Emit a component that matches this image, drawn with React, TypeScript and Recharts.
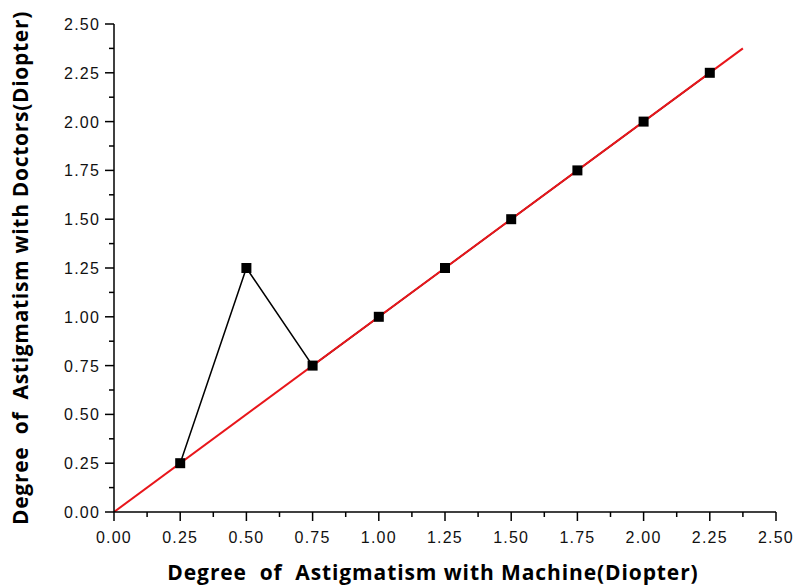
import React from "react";
import { ComposedChart, Line, Scatter, XAxis, YAxis } from "recharts";

const machineValues = [0.25, 0.5, 0.75, 1.0, 1.25, 1.5, 1.75, 2.0, 2.25];
const doctorValues = [0.25, 1.25, 0.75, 1.0, 1.25, 1.5, 1.75, 2.0, 2.25];
const fitX = [0, 2.375];
const fitY = [0, 2.375];
const axisTicks = [0, 0.125, 0.25, 0.375, 0.5, 0.625, 0.75, 0.875, 1.0, 1.125, 1.25, 1.375, 1.5, 1.625, 1.75, 1.875, 2.0, 2.125, 2.25, 2.375, 2.5];
const xTitle = "Degree\u00A0\u00A0of\u00A0\u00A0Astigmatism with Machine(Diopter)";
const yTitle = "Degree\u00A0\u00A0of\u00A0\u00A0Astigmatism with Doctors(Diopter)";

const points = machineValues.map((x, i) => ({ x, y: doctorValues[i] }));
const fitLine = fitX.map((x, i) => ({ x, y: fitY[i] }));

const isMajor = (v: number) => Math.abs(v * 4 - Math.round(v * 4)) < 1e-6;
const tickFont = "'Liberation Sans', Arial, sans-serif";
const titleFont = "'Open Sans', 'Noto Sans', sans-serif";

const XTick = (props: any) => {
  const { x, y, payload } = props;
  const v = payload.value as number;
  const major = isMajor(v);
  return (
    <g>
      <line x1={x} x2={x} y1={y} y2={y + (major ? 9 : 5)} stroke="#000" strokeWidth={1.5} />
      {major && (
        <text x={x} y={y + 31} textAnchor="middle" fontFamily={tickFont} fontSize={16} letterSpacing={1.2} fill="#111">
          {v.toFixed(2)}
        </text>
      )}
    </g>
  );
};

const YTick = (props: any) => {
  const { x, y, payload } = props;
  const v = payload.value as number;
  const major = isMajor(v);
  return (
    <g>
      <line x1={x - (major ? 9 : 5)} x2={x} y1={y} y2={y} stroke="#000" strokeWidth={1.5} />
      {major && (
        <text x={x - 14} y={y + 6} textAnchor="end" fontFamily={tickFont} fontSize={16} letterSpacing={1.2} fill="#111">
          {v.toFixed(2)}
        </text>
      )}
    </g>
  );
};

const SquareMarker = (props: any) => {
  const { cx, cy } = props;
  return <rect x={cx - 5} y={cy - 5} width={10} height={10} fill="#000" />;
};

export default function App() {
  return (
    <div style={{ position: "absolute", left: 0, top: 0, width: 796, height: 587, background: "#fff" }}>
      <ComposedChart width={796} height={587} margin={{ top: 24, right: 20, bottom: 0, left: 0 }}>
        <XAxis
          type="number"
          dataKey="x"
          domain={[0, 2.5]}
          ticks={axisTicks}
          interval={0}
          height={75}
          tickSize={0}
          tickMargin={0}
          tickLine={false}
          axisLine={{ stroke: "#000", strokeWidth: 1.5 }}
          tick={<XTick />}
          allowDataOverflow
          label={{
            value: xTitle,
            position: "insideBottom",
            offset: 7,
            dx: -12,
            style: { fontFamily: titleFont, fontWeight: 700, fontSize: 21, letterSpacing: 0.9, fill: "#000" },
          }}
        />
        <YAxis
          type="number"
          dataKey="y"
          domain={[0, 2.5]}
          ticks={axisTicks}
          interval={0}
          width={114}
          tickSize={0}
          tickMargin={0}
          tickLine={false}
          axisLine={{ stroke: "#000", strokeWidth: 1.5 }}
          tick={<YTick />}
          allowDataOverflow
          label={{
            value: yTitle,
            angle: -90,
            position: "insideLeft",
            offset: 21,
            style: { textAnchor: "middle", fontFamily: titleFont, fontWeight: 700, fontSize: 21, letterSpacing: 0.7, fill: "#000" },
          }}
        />
        <Line data={points} dataKey="y" stroke="#000" strokeWidth={1.5} dot={false} activeDot={false} isAnimationActive={false} />
        <Line data={fitLine} dataKey="y" stroke="#e8161b" strokeWidth={2} dot={false} activeDot={false} isAnimationActive={false} />
        <Scatter data={points} dataKey="y" fill="#000" shape={<SquareMarker />} isAnimationActive={false} />
      </ComposedChart>
    </div>
  );
}
